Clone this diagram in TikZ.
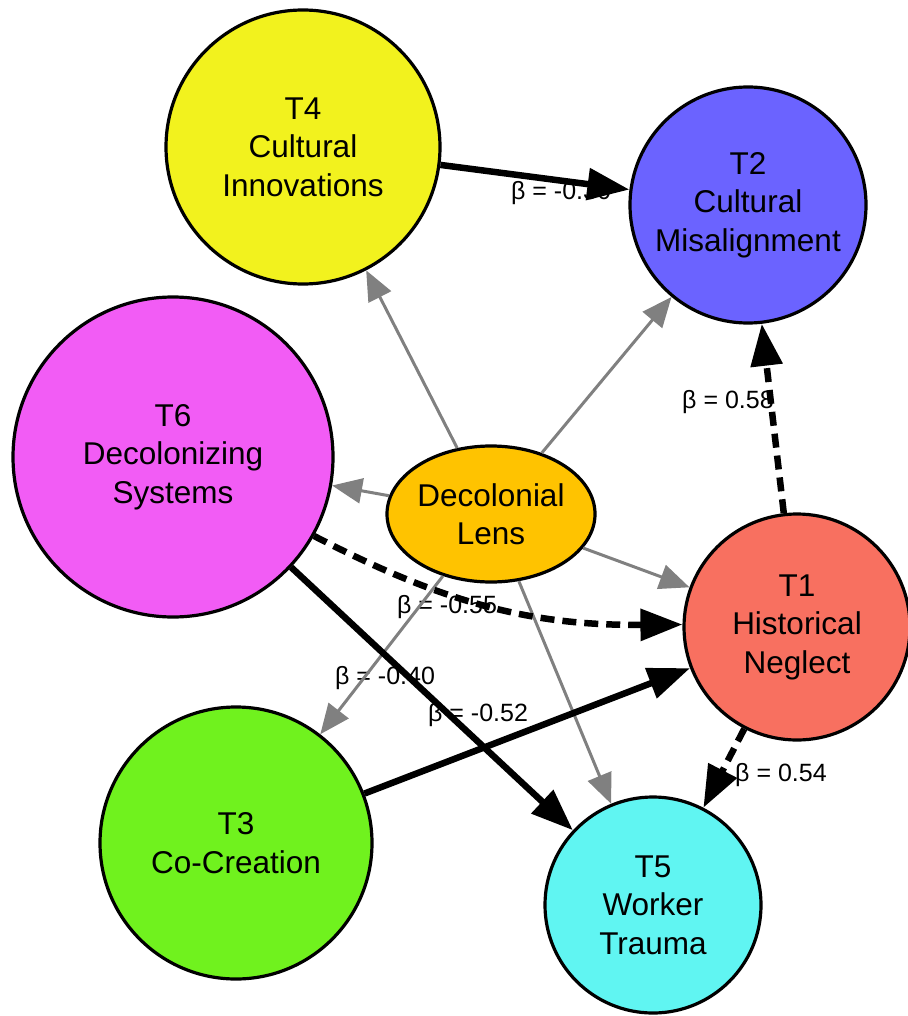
\documentclass[tikz,border=0pt]{standalone}
\usepackage{fontspec}
\setmainfont{Liberation Sans}
\usetikzlibrary{arrows.meta,shapes.geometric}
\definecolor{cT4}{HTML}{F2F21E}
\definecolor{cT2}{HTML}{6B63FF}
\definecolor{cT6}{HTML}{F25CF5}
\definecolor{cLens}{HTML}{FFC300}
\definecolor{cT1}{HTML}{F87060}
\definecolor{cT3}{HTML}{70F21E}
\definecolor{cT5}{HTML}{60F5F2}
\definecolor{edgegray}{HTML}{808080}
\tikzset{
  theme/.style={circle, draw=black, line width=3.2pt, inner sep=0pt, align=center,
    font=\fontsize{31.5}{38.5}\selectfont},
  lensnode/.style={ellipse, draw=black, line width=3.2pt, fill=cLens, inner sep=0pt,
    minimum width=208pt, minimum height=136pt, align=center,
    font=\fontsize{31.5}{38.5}\selectfont},
  beta/.style={font=\fontsize{25}{28}\selectfont, inner sep=0pt},
  grayedge/.style={draw=edgegray, line width=3pt,
    -{Triangle[length=30pt,width=25pt]}},
  solidedge/.style={draw=black, line width=6.5pt,
    -{Triangle[length=42pt,width=31pt]}},
  dashededge/.style={draw=black, line width=6.5pt, dash pattern=on 14pt off 8pt,
    -{Triangle[length=42pt,width=31pt]}},
}
\begin{document}
\begin{tikzpicture}[x=1pt,y=1pt]
\useasboundingbox (0,0) rectangle (907,-1016);
% nodes
\node[theme, fill=cT4, minimum size=274pt] (t4) at (303,-147) {T4\\Cultural\\Innovations};
\node[theme, fill=cT2, minimum size=236pt] (t2) at (748,-205) {T2\\Cultural\\Misalignment};
\node[theme, fill=cT6, minimum size=320pt] (t6) at (173,-457) {T6\\Decolonizing\\Systems};
\node[lensnode] (lens) at (491,-514) {Decolonial\\Lens};
\node[theme, fill=cT1, minimum size=226pt] (t1) at (797,-627) {T1\\Historical\\Neglect};
\node[theme, fill=cT3, minimum size=272pt] (t3) at (236,-843) {T3\\Co-Creation};
\node[theme, fill=cT5, minimum size=216pt] (t5) at (653,-905) {T5\\Worker\\Trauma};
% labels
\node[beta] (l42) at (561,-193) {β = -0.30};
\node[beta] (l12) at (728,-402) {β = 0.58};
\node[beta] (l61) at (447,-607) {β = -0.55};
\node[beta] (l65) at (385,-678) {β = -0.40};
\node[beta] (l31) at (478,-715) {β = -0.52};
\node[beta] (l15) at (781,-775) {β = 0.54};
% gray edges from lens
\draw[grayedge] (lens) -- (t4);
\draw[grayedge] (lens) -- (t2);
\draw[grayedge] (lens) -- (t6);
\draw[grayedge] (lens) -- (t1);
\draw[grayedge] (lens) -- (t3);
\draw[grayedge] (lens) -- (t5);
% black edges
\draw[solidedge] (t4) -- (t2);
\draw[dashededge] (t1) -- (t2);
\draw[dashededge] (t6) to[bend right=14] (t1);
\draw[solidedge] (t6) -- (t5);
\draw[solidedge] (t3) -- (t1);
\draw[dashededge] (t1) -- (t5);
\end{tikzpicture}
\end{document}
